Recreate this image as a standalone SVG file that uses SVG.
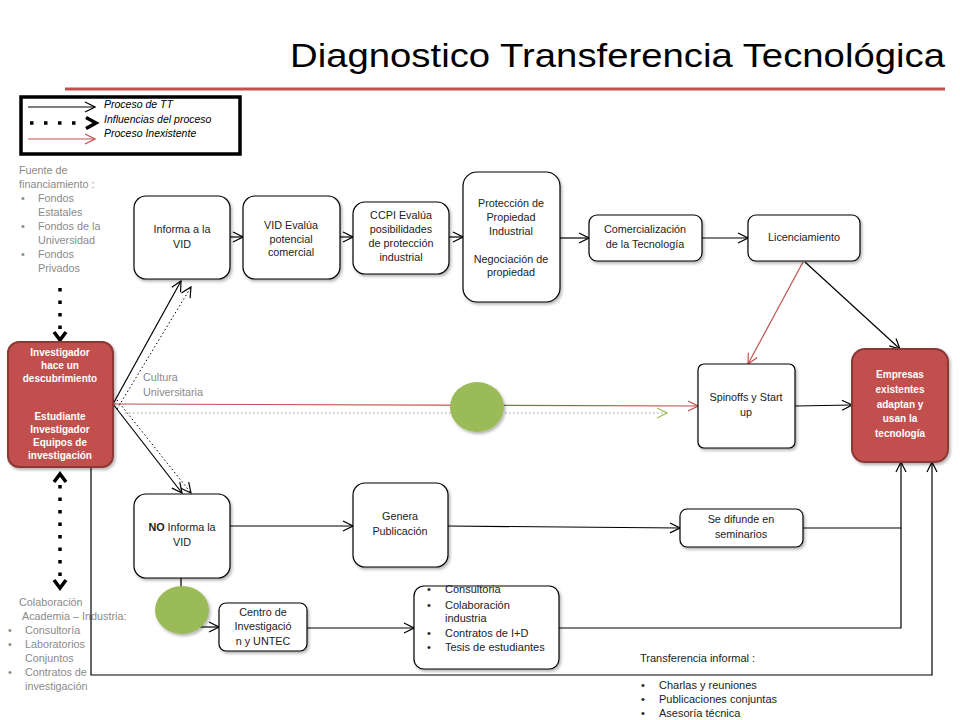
<svg xmlns="http://www.w3.org/2000/svg" width="960" height="720" viewBox="0 0 960 720">
<defs>
<marker id="ab" viewBox="0 0 12 12" refX="11" refY="6" markerWidth="12" markerHeight="12" markerUnits="userSpaceOnUse" orient="auto"><path d="M1,1 L11,6 L1,11" fill="none" stroke="#000" stroke-width="1.2"/></marker>
<marker id="ar" viewBox="0 0 12 12" refX="11" refY="6" markerWidth="12" markerHeight="12" markerUnits="userSpaceOnUse" orient="auto"><path d="M1,1 L11,6 L1,11" fill="none" stroke="#c0504d" stroke-width="1.2"/></marker>
<marker id="ag" viewBox="0 0 12 12" refX="11" refY="6" markerWidth="12" markerHeight="12" markerUnits="userSpaceOnUse" orient="auto"><path d="M1,1 L11,6 L1,11" fill="none" stroke="#9bbb59" stroke-width="1.2"/></marker>
<filter id="sh" x="-20%" y="-20%" width="140%" height="140%"><feDropShadow dx="1.5" dy="2" stdDeviation="1.5" flood-color="#000" flood-opacity="0.3"/></filter>
</defs>
<style>
.box{fill:#fff;stroke:#000;stroke-width:1.2;filter:url(#sh)}
.red{fill:#c0504d;stroke:#8c3836;stroke-width:2;filter:url(#sh)}
.t{font-family:"Liberation Sans",Arial,sans-serif;font-size:10.8px;fill:#222;text-anchor:middle}
.tw{font-family:"Liberation Sans",Arial,sans-serif;font-size:10px;font-weight:bold;fill:#fff;text-anchor:middle}
.g{font-family:"Liberation Sans",Arial,sans-serif;font-size:10.8px;fill:#8a8a8a}
.l{font-family:"Liberation Sans",Arial,sans-serif;font-size:11px;fill:#222}
.lg{font-family:"Liberation Sans",Arial,sans-serif;font-size:10.5px;font-style:italic;fill:#000}
.c{fill:none;stroke:#000;stroke-width:1.2}
.cr{fill:none;stroke:#c0504d;stroke-width:1.2}
.dt{fill:none;stroke:#000;stroke-width:1;stroke-dasharray:1.5 2.5}
.big{fill:none;stroke:#000;stroke-width:3.5;stroke-dasharray:3.5 9}
.circ{fill:#9bbb59;filter:url(#sh)}
</style>
<rect width="960" height="720" fill="#fff"/>
<g id="title">
<text x="290" y="67" font-family="Liberation Sans,Arial,sans-serif" font-size="34" fill="#000" textLength="655" lengthAdjust="spacingAndGlyphs">Diagnostico Transferencia Tecnológica</text>
<line x1="65" y1="89" x2="945" y2="89" stroke="#c0504d" stroke-width="3"/>
</g>
<g id="legend">
<rect x="21" y="97" width="219" height="57" fill="#fff" stroke="#000" stroke-width="3.5"/>
<line x1="28" y1="107" x2="95" y2="107" class="c" marker-end="url(#ab)"/>
<line x1="30" y1="123" x2="80" y2="123" stroke="#000" stroke-width="3.5" stroke-dasharray="3.5 10.5"/>
<path d="M86,117.5 L96,123 L86,128.5" fill="none" stroke="#000" stroke-width="3.5"/>
<line x1="28" y1="139" x2="95" y2="139" class="cr" marker-end="url(#ar)"/>
<text x="104" y="108" class="lg">Proceso de TT</text>
<text x="104" y="123" class="lg">Influencias del proceso</text>
<text x="104" y="137" class="lg">Proceso Inexistente</text>
</g>
<g id="fuente">
<text x="19" y="174" class="g">Fuente de</text>
<text x="19" y="188" class="g">financiamiento :</text>
<text x="21" y="202" class="g">•</text><text x="38" y="202" class="g">Fondos</text>
<text x="38" y="216" class="g">Estatales</text>
<text x="21" y="230" class="g">•</text><text x="38" y="230" class="g">Fondos de la</text>
<text x="38" y="244" class="g">Universidad</text>
<text x="21" y="258" class="g">•</text><text x="38" y="258" class="g">Fondos</text>
<text x="38" y="272" class="g">Privados</text>
</g>
<g id="colaboracion">
<text x="19" y="606" class="g">Colaboración</text>
<text x="22" y="620" class="g">Academia – Industria:</text>
<text x="8" y="634" class="g">•</text><text x="25" y="634" class="g">Consultoría</text>
<text x="8" y="648" class="g">•</text><text x="25" y="648" class="g">Laboratorios</text>
<text x="25" y="662" class="g">Conjuntos</text>
<text x="8" y="676" class="g">•</text><text x="25" y="676" class="g">Contratos de</text>
<text x="25" y="690" class="g">investigación</text>
</g>
<g id="connectors">
<line x1="60" y1="288" x2="60" y2="330" class="big"/>
<path d="M54,332 L60,340 L66,332" fill="none" stroke="#000" stroke-width="3.5"/>
<line x1="60" y1="485" x2="60" y2="578" class="big"/>
<path d="M54,482 L60,474 L66,482" fill="none" stroke="#000" stroke-width="3.5"/>
<path d="M54,580 L60,588 L66,580" fill="none" stroke="#000" stroke-width="3.5"/>
<line x1="230" y1="237" x2="243" y2="237" class="c" marker-end="url(#ab)"/>
<line x1="340" y1="237" x2="353" y2="237" class="c" marker-end="url(#ab)"/>
<line x1="449" y1="237" x2="463" y2="237" class="c" marker-end="url(#ab)"/>
<line x1="560" y1="238" x2="589" y2="238" class="c" marker-end="url(#ab)"/>
<line x1="702" y1="238" x2="748" y2="238" class="c" marker-end="url(#ab)"/>
<line x1="805" y1="262" x2="900" y2="349" class="c" marker-end="url(#ab)"/>
<line x1="803" y1="262" x2="748" y2="364" class="cr" marker-end="url(#ar)"/>
<line x1="795" y1="406" x2="852" y2="405" class="c" marker-end="url(#ab)"/>
<line x1="113" y1="404" x2="181" y2="281" class="c" marker-end="url(#ab)"/>
<line x1="117" y1="409" x2="191" y2="287" class="dt" marker-end="url(#ab)"/>
<line x1="113" y1="404" x2="182" y2="493" class="c" marker-end="url(#ab)"/>
<line x1="117" y1="400" x2="191" y2="493" class="dt" marker-end="url(#ab)"/>
<line x1="113" y1="404" x2="698" y2="406" class="cr" marker-end="url(#ar)"/>
<line x1="125" y1="413" x2="667" y2="413" fill="none" stroke="#9aa0a6" stroke-width="1" stroke-dasharray="1.5 2.5" marker-end="url(#ag)"/>
<line x1="230" y1="526" x2="353" y2="526" class="c" marker-end="url(#ab)"/>
<line x1="448" y1="526" x2="680" y2="528" class="c" marker-end="url(#ab)"/>
<polyline points="803,528 901,528 901,462" class="c" marker-end="url(#ab)"/>
<polyline points="559,628 901,628 901,528" class="c"/>
<polyline points="91,467 91,675 932,675 932,462" class="c" marker-end="url(#ab)"/>
<line x1="181" y1="578" x2="181" y2="588" class="c"/>
<line x1="200" y1="627" x2="219" y2="627" class="c" marker-end="url(#ab)"/>
<line x1="307" y1="628" x2="414" y2="628" class="c" marker-end="url(#ab)"/>
</g>
<g id="n-investigador">
<rect x="8" y="342" width="105" height="125" rx="11" class="red"/>
<text x="60" y="356" class="tw">Investigador</text>
<text x="60" y="369" class="tw">hace un</text>
<text x="60" y="382" class="tw">descubrimiento</text>
<text x="60" y="420" class="tw">Estudiante</text>
<text x="60" y="433" class="tw">Investigador</text>
<text x="60" y="446" class="tw">Equipos de</text>
<text x="60" y="459" class="tw">investigación</text>
</g>
<g id="n-informa">
<rect x="134" y="196" width="96" height="83" rx="12" class="box"/>
<text x="182" y="233" class="t">Informa a la</text>
<text x="182" y="248" class="t">VID</text>
</g>
<g id="n-vid">
<rect x="243" y="196" width="97" height="83" rx="12" class="box"/>
<text x="291" y="229" class="t">VID Evalúa</text>
<text x="291" y="243" class="t">potencial</text>
<text x="291" y="256" class="t">comercial</text>
</g>
<g id="n-ccpi">
<rect x="353" y="202" width="96" height="72" rx="12" class="box"/>
<text x="401" y="219" class="t">CCPI Evalúa</text>
<text x="401" y="233" class="t">posibilidades</text>
<text x="401" y="247" class="t">de protección</text>
<text x="401" y="261" class="t">industrial</text>
</g>
<g id="n-proteccion">
<rect x="463" y="172" width="97" height="130" rx="14" class="box"/>
<text x="511" y="207" class="t">Protección de</text>
<text x="511" y="221" class="t">Propiedad</text>
<text x="511" y="235" class="t">Industrial</text>
<text x="511" y="263" class="t" font-size="9">Negociación de</text>
<text x="511" y="276" class="t" font-size="9">propiedad</text>
</g>
<g id="n-comercializacion">
<rect x="589" y="215" width="113" height="46" rx="8" class="box"/>
<text x="645" y="233" class="t">Comercialización</text>
<text x="645" y="248" class="t">de la Tecnología</text>
</g>
<g id="n-licenciamiento">
<rect x="748" y="215" width="112" height="46" rx="8" class="box"/>
<text x="804" y="241" class="t">Licenciamiento</text>
</g>
<g id="n-spinoffs">
<rect x="698" y="364" width="97" height="84" rx="6" class="box"/>
<text x="746" y="401" class="t">Spinoffs y Start</text>
<text x="746" y="416" class="t">up</text>
</g>
<g id="n-empresas">
<rect x="852" y="349" width="96" height="113" rx="13" class="red"/>
<text x="900" y="378" class="tw">Empresas</text>
<text x="900" y="393" class="tw">existentes</text>
<text x="900" y="408" class="tw">adaptan y</text>
<text x="900" y="422" class="tw">usan la</text>
<text x="900" y="437" class="tw">tecnología</text>
</g>
<g id="n-circle1">
<ellipse cx="477" cy="407" rx="27" ry="25" class="circ"/>
</g>
<g id="n-cultura">
<text x="143" y="381" class="g">Cultura</text>
<text x="143" y="396" class="g">Universitaria</text>
</g>
<g id="n-noinforma">
<rect x="134" y="494" width="96" height="84" rx="12" class="box"/>
<text x="182" y="531" class="t"><tspan font-weight="bold">NO</tspan> Informa la</text>
<text x="182" y="546" class="t">VID</text>
</g>
<g id="n-genera">
<rect x="353" y="483" width="95" height="84" rx="12" class="box"/>
<text x="400" y="520" class="t">Genera</text>
<text x="400" y="535" class="t">Publicación</text>
</g>
<g id="n-difunde">
<rect x="680" y="509" width="123" height="38" rx="7" class="box"/>
<text x="741" y="523" class="t">Se difunde  en</text>
<text x="741" y="538" class="t">seminarios</text>
</g>
<g id="n-circle2">
<ellipse cx="182" cy="610" rx="27" ry="24" class="circ"/>
</g>
<g id="n-centro">
<rect x="219" y="603" width="88" height="48" rx="7" class="box"/>
<text x="263" y="616" class="t">Centro de</text>
<text x="263" y="630" class="t">Investigació</text>
<text x="263" y="645" class="t">n y UNTEC</text>
</g>
<g id="n-consultoria">
<rect x="414" y="586" width="145" height="83" rx="10" class="box"/>
<text x="427" y="593" class="l">•</text><text x="445" y="593" class="l">Consultoria</text>
<text x="427" y="609" class="l">•</text><text x="445" y="609" class="l">Colaboración</text>
<text x="445" y="622" class="l">industria</text>
<text x="427" y="637" class="l">•</text><text x="445" y="637" class="l">Contratos de I+D</text>
<text x="427" y="651" class="l">•</text><text x="445" y="651" class="l">Tesis de estudiantes</text>
</g>
<g id="n-informal">
<text x="640" y="662" class="l">Transferencia informal :</text>
<text x="641" y="689" class="l">•</text><text x="659" y="689" class="l">Charlas y reuniones</text>
<text x="641" y="703" class="l">•</text><text x="659" y="703" class="l">Publicaciones conjuntas</text>
<text x="641" y="717" class="l">•</text><text x="659" y="717" class="l">Asesoría técnica</text>
</g>
</svg>
